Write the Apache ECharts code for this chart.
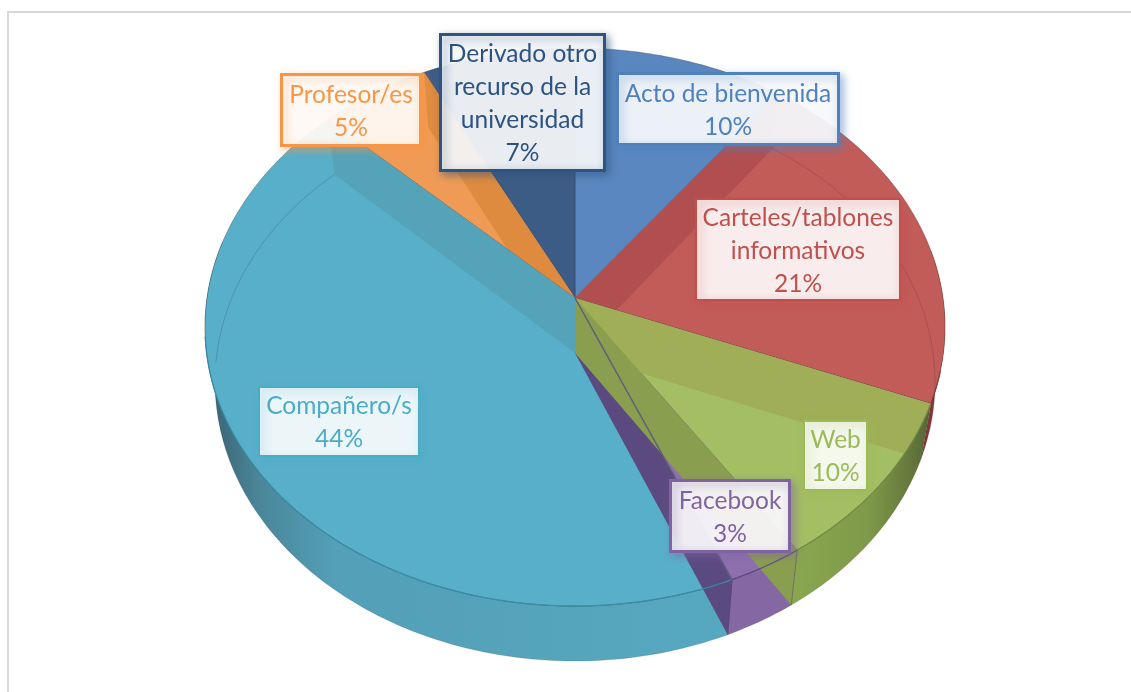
<!DOCTYPE html>
<html>
<head>
<meta charset="utf-8">
<style>html,body{margin:0;padding:0;background:#fff}#chart{width:1131px;height:692px}</style>
<script src="https://cdn.jsdelivr.net/npm/echarts@6/dist/echarts.min.js"></script>
</head>
<body>
<div id="chart"></div>
<script>
// ---- data
const labels = ['Acto de bienvenida','Carteles/tablones\ninformativos','Web','Facebook','Compañero/s','Profesor/es','Derivado otro\nrecurso de la\nuniversidad'];
const values = [10.2, 20.8, 9.7, 3.0, 43.5, 5.4, 7.4];

// ---- styles
const textColors = ['#4f81bd','#c0504d','#9bbb59','#8064a2','#4bacc6','#f79646','#2c5282'];
const topColors  = ['#5a87c0','#c25c59','#a3be63','#8e6fae','#58afc9','#f09b55','#3d5c85'];
// colour of the radial wall standing on each slice boundary (edges[k])
const bandColors = {1:'#b14f50',2:'#9fae57',3:'#8a9e4f',4:'#5b4a80',5:'#55a3b8',6:'#de8b3f'};
const rimColors  = ['#3f628f','#8a3d3c','#728a44','#5b4a80','#3a8ba3','#c77a35','#2c4666'];
const wallStops = [
  [[0,'#4a6f9c'],[1,'#4a6f9c']],
  [[0,'#7c2e2e'],[1,'#8f3a3a']],
  [[0,'#8aa750'],[0.55,'#7f9a4a'],[0.85,'#66793c'],[1,'#55663a']],
  [[0,'#8568a3'],[1,'#8568a3']],
  [[0,'#37606f'],[0.1,'#4a8598'],[0.25,'#53a0b8'],[1,'#56a8c0']],
  [[0,'#de8b3f'],[1,'#de8b3f']],
  [[0,'#2f4d72'],[1,'#2f4d72']]
];
const wallGradX = [[600,800],[900,945],[790,930],[720,800],[205,730],[300,430],[430,575]];
const labelBoxes = [
  {x:616,y:72,w:224,h:74,b:3},{x:695,y:198,w:206,h:103,b:2},{x:803,y:420,w:65,h:71,b:2},
  {x:669,y:479,w:122,h:74,b:3},{x:258,y:386,w:162,h:71,b:2},{x:280,y:73,w:142,h:74,b:3},
  {x:439,y:33,w:167,h:139,b:3}
];
const G = {cx:575, upY:298, lowY:353, upR:368, lowR:358, S:276, k:0.104, wallFrom:80, wallTo:282};

// ---- geometry
const total = values.reduce((a,b)=>a+b,0);
const edges = [0];
values.forEach((v,i)=>edges.push(edges[i]+v/total*360));

function pt(deg, low, r){
  const rr = r===undefined?1:r, a = deg*Math.PI/180;
  const u = rr*Math.sin(a), v = -rr*Math.cos(a), w = 1-G.k*v;
  return [G.cx+(low?G.lowR:G.upR)*u/w, (low?G.lowY:G.upY)+G.S*v/w];
}
function arc(a0,a1,low){
  const n = Math.max(2,Math.ceil(Math.abs(a1-a0))), out=[];
  for(let i=0;i<=n;i++) out.push(pt(a0+(a1-a0)*i/n,low));
  return out;
}
const apexU = pt(0,false,0), apexL = pt(0,true,0);

// painter's order of the pieces of the 3D pie
const layers = [];
[0,1,3,4,5,6].forEach(i=>layers.push(['wall',i]));
[0,6,1,5,3].forEach(i=>layers.push(['top',i]));
layers.push(['band',1],['band',6]);
[2,4].forEach(i=>layers.push(['top',i]));
layers.push(['band',2],['wall',2],['band',4],['band',3],['band',5]);
layers.push(['lowrim',4],['lowrim',1],['lowrim',0]);
[1,2,3,4].forEach(i=>layers.push(['rim',i]));
layers.push(['edge',3],['post',2],['post',3]);

function renderPiece(params){
  const [kind,i] = layers[params.dataIndex];
  const a0 = edges[i], a1 = edges[i+1];
  if(kind==='wall'){
    const s = Math.max(a0,G.wallFrom), e = Math.min(a1,G.wallTo);
    if(e<=s) return {type:'group'};
    const pts = arc(s,e,false).concat(arc(e,s,true));
    return {type:'polygon',shape:{points:pts},style:{
      fill:{type:'linear',global:true,x:wallGradX[i][0],y:0,x2:wallGradX[i][1],y2:0,colorStops:wallStops[i].map(c=>({offset:c[0],color:c[1]}))},
      stroke:'rgba(40,40,50,0.25)',lineWidth:0.6}};
  }
  if(kind==='top'){
    const pts = [apexU].concat(arc(a0,a1,false));
    return {type:'polygon',shape:{points:pts},style:{fill:topColors[i],stroke:'rgba(40,40,50,0.4)',lineWidth:0.8}};
  }
  if(kind==='band'){
    const a = edges[i];
    const pts = [apexU,pt(a,false),pt(a,true),apexL];
    return {type:'polygon',shape:{points:pts},style:{fill:bandColors[i]}};
  }
  if(kind==='rim'){
    const s = Math.max(a0,G.wallFrom+25), e = Math.min(a1,G.wallTo-20);
    return {type:'polyline',shape:{points:arc(s,e,false)},style:{fill:null,stroke:rimColors[i],lineWidth:1.2}};
  }
  if(kind==='lowrim'){
    const rng = i===4 ? [268,a1] : i===1 ? [a0,106] : [12,a1];
    return {type:'polyline',shape:{points:arc(rng[0],rng[1],true)},style:{fill:null,stroke:'rgba(60,40,60,0.28)',lineWidth:0.8}};
  }
  if(kind==='edge'){
    return {type:'polyline',shape:{points:[apexU,pt(a1,false)]},style:{fill:null,stroke:'#5d5f7a',lineWidth:1.5}};
  }
  // 'post': vertical edge of the wall at the slice end
  return {type:'polyline',shape:{points:[pt(a1,false),pt(a1,true)]},style:{fill:null,stroke:i===2?'#6d7468':'#54467a',lineWidth:1}};
}

function renderLabel(params){
  const i = params.dataIndex, b = labelBoxes[i], c = textColors[i];
  const boxColor = i===6?'#2f5480':c;
  const pct = Math.round(values[i])+'%';
  return {type:'group',children:[
    {type:'rect',shape:{x:b.x+b.b/2,y:b.y+b.b/2,width:b.w-b.b,height:b.h-b.b},style:{
      fill:'rgba(255,255,255,0.89)',stroke:boxColor,lineWidth:b.b,
      shadowBlur:8,shadowOffsetX:3,shadowOffsetY:3,shadowColor:echarts.color.modifyAlpha(boxColor,0.55)}},
    {type:'text',style:{x:b.x+b.w/2,y:b.y+b.h/2+1.5,text:labels[i]+'\n'+pct,align:'center',verticalAlign:'middle',
      fill:c,font:'24.5px Lato, "Open Sans", sans-serif',lineHeight:33}}
  ]};
}

const chart = echarts.init(document.getElementById('chart'),null,{renderer:'canvas'});
chart.setOption({
  animation:false,
  backgroundColor:'#fff',
  graphic:[
    {type:'polyline',silent:true,shape:{points:[[8,692],[8,12],[1131,12]]},style:{fill:null,stroke:'#d9d9d9',lineWidth:2}}
  ],
  series:[
    {type:'custom',name:'pie3d',coordinateSystem:'none',silent:true,z:2,
     data:layers.map((l,k)=>[k]),renderItem:renderPiece},
    {type:'custom',name:'labels',coordinateSystem:'none',silent:true,z:5,
     data:values.map((v,i)=>({name:labels[i],value:[v]})),renderItem:renderLabel}
  ]
});
</script>
</body>
</html>
